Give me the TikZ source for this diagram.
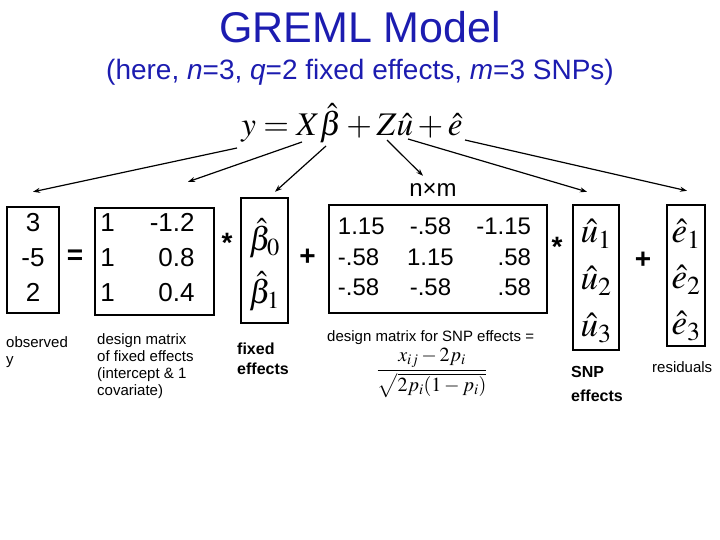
\documentclass[tikz,border=0pt]{standalone}
\usepackage{amsmath}
\usepackage{mathptmx}
\usepackage[no-math]{fontspec}
\setmainfont{Liberation Sans}
\usetikzlibrary{arrows.meta,calc,positioning}
\definecolor{titleblue}{RGB}{28,28,176}

\begin{document}
\begin{tikzpicture}[x=1pt,y=1pt,yscale=-1,xscale=1,
  vecbox/.style={draw,line width=2.4pt,inner sep=0pt},
  arr/.style={line width=1.2pt,-{Stealth[length=7pt,width=5pt]}},
  lbl/.style={anchor=north west,inner sep=0pt,align=left,font=\fontsize{15}{17}\selectfont},
  blbl/.style={anchor=north west,inner sep=0pt,align=left,font=\bfseries\fontsize{16}{20}\selectfont},
  op/.style={inner sep=0pt,font=\bfseries\fontsize{28}{30}\selectfont}]
\useasboundingbox (0,0) rectangle (720,540);

% Text Node
\node[text=titleblue,font=\fontsize{43}{50}\selectfont] (title) at (360,27) {GREML Model};
% Text Node
\node[text=titleblue,font=\fontsize{28}{32}\selectfont] (subtitle) at (360,72) {(here, \textit{n}=3, \textit{q}=2 fixed effects, \textit{m}=3 SNPs)};
% Text Node
\node[font=\fontsize{33}{40}\selectfont] (model) at (352,123) {$y = X\hat{\beta} + Z\hat{u} + \hat{e}$};

%Boxes
\node[vecbox,minimum width=52,minimum height=106] (yvec) at (33,260) {};
\node[vecbox,minimum width=119,minimum height=107] (xmat) at (154.5,261.5) {};
\node[vecbox,minimum width=47,minimum height=125] (beta) at (264.5,260.5) {};
\node[vecbox,minimum width=218,minimum height=108] (zmat) at (438,259) {};
\node[vecbox,minimum width=46,minimum height=145] (uvec) at (596,277.5) {};
\node[vecbox,minimum width=38,minimum height=141] (evec) at (686,275.5) {};

%Box contents
\node[font=\fontsize{26}{35}\selectfont,align=center,inner sep=0pt] (yvals) at (33,257) {3\\-5\\2};
\node[font=\fontsize{26}{35}\selectfont,inner sep=0pt] (xvals) at (147.5,259)
  {\begin{tabular}{@{}l@{\hspace{35pt}}r@{}}1 & -1.2\\ 1 & 0.8\\ 1 & 0.4\end{tabular}};
\node[font=\fontsize{33}{53}\selectfont,align=center,inner sep=0pt] (betavals) at (264.5,265) {$\hat{\beta}_0$\\$\hat{\beta}_1$};
\node[font=\fontsize{24}{30.5}\selectfont,inner sep=0pt] (zvals) at (434.5,259)
  {\begin{tabular}{@{}l@{\hspace{22.5pt}}c@{\hspace{22.5pt}}r@{}}1.15 & -.58 & -1.15\\ -.58 & 1.15 & .58\\ -.58 & -.58 & .58\end{tabular}};
\node[font=\fontsize{35}{47}\selectfont,align=center,inner sep=0pt] (uvals) at (596,281) {$\hat{u}_1$\\$\hat{u}_2$\\$\hat{u}_3$};
\node[font=\fontsize{35}{46}\selectfont,align=center,inner sep=0pt] (evals) at (686,280) {$\hat{e}_1$\\$\hat{e}_2$\\$\hat{e}_3$};

%Operators
\node[op] (eqsign) at (75,257) {=};
\node[op,anchor=base] (times1) at (227,252) {*};
\node[op] (plus1) at (307.5,257) {+};
\node[op,anchor=base] (times2) at (557,256) {*};
\node[op] (plus2) at (643,260) {+};
\node[font=\fontsize{24}{28}\selectfont] (nxm) at (433,190) {n×m};

% Labels
\node[lbl] (obslbl) at (6,336) {observed\\y};
\node[lbl] (xlbl) at (97,333) {design matrix\\of fixed effects\\(intercept \& 1\\covariate)};
\node[blbl] (betalbl) at (237,343) {fixed\\effects};
\node[lbl,anchor=west] (zlbl) at (327,338) {design matrix for SNP effects =};
\node[font=\fontsize{20}{24}\selectfont,inner sep=0pt] (snpstd) at (432,373) {$\displaystyle\frac{x_{ij}-2p_i}{\sqrt{2p_i(1-p_i)}}$};
\node[blbl,font=\bfseries\fontsize{16}{24}\selectfont] (ulbl) at (571,366) {SNP\\effects};
\node[lbl,anchor=west] (elbl) at (652,367) {residuals};

%Straight Lines
\coordinate (from-y) at (237,148);
\coordinate (from-x) at (302,142);
\coordinate (from-beta) at (326,146);
\coordinate (from-z) at (387,140);
\coordinate (from-u) at (408,139);
\coordinate (from-e) at (465,140);
\draw[arr] (from-y) -- ($(yvec.north)+(0,-14)$);
\draw[arr] (from-x) -- ($(xmat.north)+(33.5,-25)$);
\draw[arr] (from-beta) -- ($(beta.north)+(10.5,-5)$);
\draw[arr] (from-z) -- ($(nxm.north)+(-10,-4)$);
\draw[arr] (from-u) -- ($(uvec.north)+(-9,-12)$);
\draw[arr] (from-e) -- ($(evec.north)+(1,-13)$);

\end{tikzpicture}
\end{document}
